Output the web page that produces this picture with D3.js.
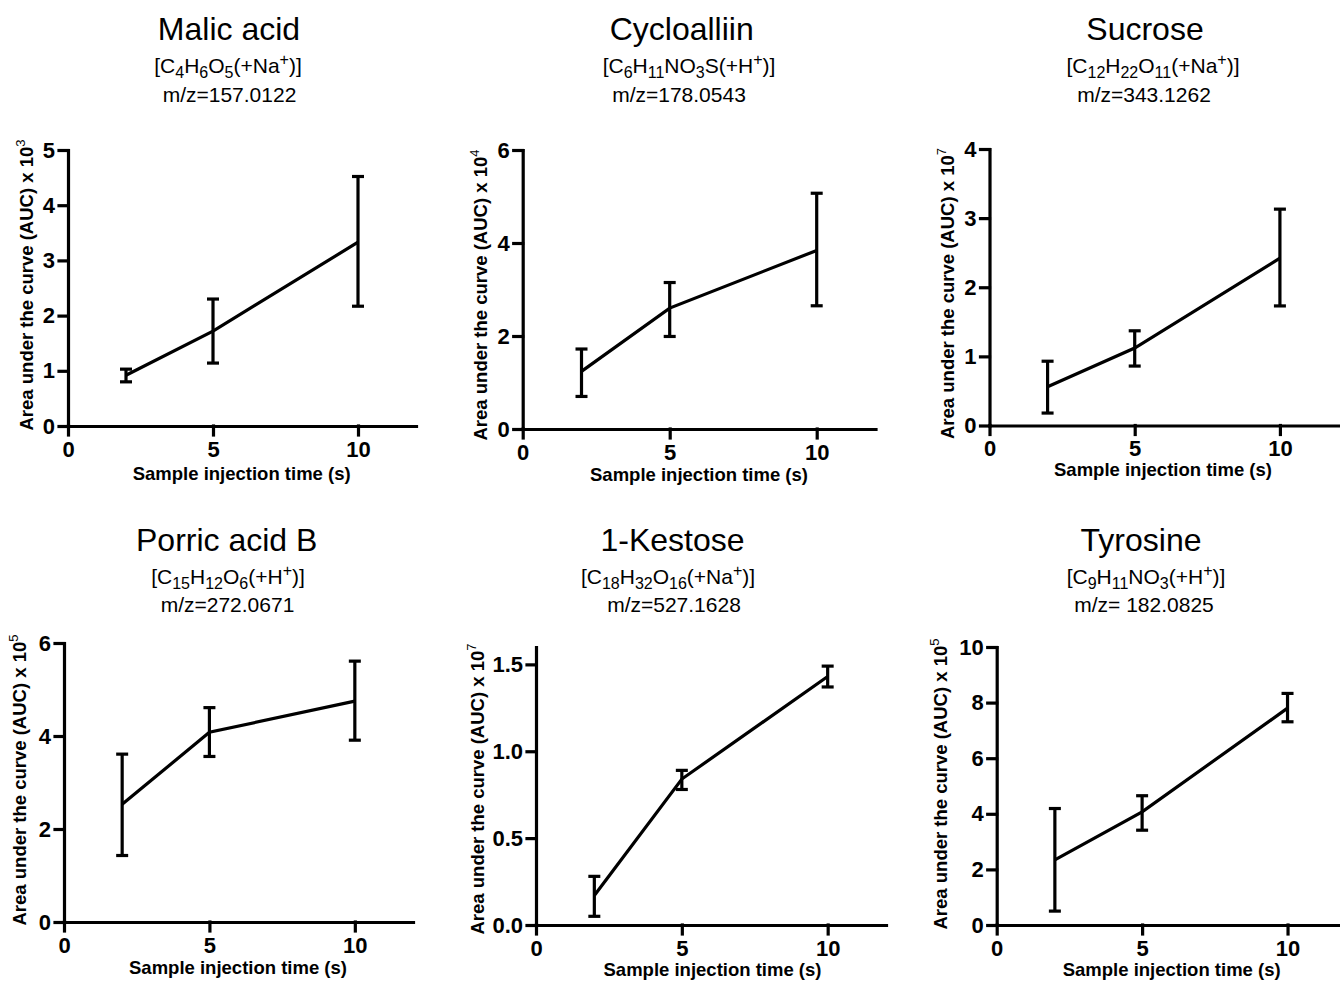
<!DOCTYPE html>
<html>
<head>
<meta charset="utf-8">
<script src="https://cdn.jsdelivr.net/npm/d3@7"></script>
<style>
  body { margin: 0; background: #fff; }
  svg { display: block; font-family: "Liberation Sans", Arial, sans-serif; }
  .title { font-size: 32px; text-anchor: middle; }
  .sub-title { font-size: 21px; text-anchor: middle; }
  .axis-title { font-size: 18.5px; font-weight: bold; text-anchor: middle; }
</style>
</head>
<body>
<script>
// Data
const COMPOUNDS = ["Malic acid", "Cycloalliin", "Sucrose", "Porric acid B", "1-Kestose", "Tyrosine"];
const FORMULAS = [
  "[C_{4}H_{6}O_{5}(+Na^{+})]",
  "[C_{6}H_{11}NO_{3}S(+H^{+})]",
  "[C_{12}H_{22}O_{11}(+Na^{+})]",
  "[C_{15}H_{12}O_{6}(+H^{+})]",
  "[C_{18}H_{32}O_{16}(+Na^{+})]",
  "[C_{9}H_{11}NO_{3}(+H^{+})]"
];
const MZ_LABELS = ["m/z=157.0122", "m/z=178.0543", "m/z=343.1262", "m/z=272.0671", "m/z=527.1628", "m/z= 182.0825"];
const EXPONENTS = ["3", "4", "7", "5", "7", "5"];

const INJECTION_TIMES = [2, 5, 10];
const X_TICKS = [0, 5, 10];
const X_MAX = 12;

const MEANS = [
  [0.92, 1.72, 3.33],
  [1.24, 2.60, 3.84],
  [0.56, 1.12, 2.42],
  [2.53, 4.08, 4.75],
  [0.17, 0.84, 1.43],
  [2.34, 4.07, 7.80]
];
const ERR_LOW = [
  [0.80, 1.14, 2.17],
  [0.70, 1.99, 2.65],
  [0.18, 0.86, 1.73],
  [1.43, 3.56, 3.91],
  [0.05, 0.78, 1.37],
  [0.50, 3.41, 7.31]
];
const ERR_HIGH = [
  [1.03, 2.30, 4.52],
  [1.72, 3.15, 5.07],
  [0.93, 1.37, 3.13],
  [3.61, 4.61, 5.61],
  [0.28, 0.89, 1.49],
  [4.19, 4.65, 8.33]
];
const Y_MAX = [5, 6, 4, 6, 1.6, 10];
const Y_TICKS = [
  [0, 1, 2, 3, 4, 5],
  [0, 2, 4, 6],
  [0, 1, 2, 3, 4],
  [0, 2, 4, 6],
  [0, 0.5, 1.0, 1.5],
  [0, 2, 4, 6, 8, 10]
];

// Panel geometry (pixels)
const LAYOUT = [
  {x0: 68,    xEnd: 416,    yTop: 150, yBot: 426,   tX: 229,   fX: 228,  mX: 229.5, row: 0, ylX: 27,  ylY: 285,   xlX: 241.7,  xlY: 480},
  {x0: 522.7, xEnd: 875.5,  yTop: 150, yBot: 429,   tX: 681.7, fX: 689,  mX: 679,   row: 0, ylX: 481, ylY: 295,   xlX: 699,    xlY: 481},
  {x0: 989.5, xEnd: 1338,   yTop: 149, yBot: 425.5, tX: 1145,  fX: 1153, mX: 1144,  row: 0, ylX: 948, ylY: 293.5, xlX: 1163,   xlY: 476},
  {x0: 64,    xEnd: 413,    yTop: 643, yBot: 922,   tX: 226.7, fX: 228,  mX: 227.5, row: 1, ylX: 20,  ylY: 780,   xlX: 238,    xlY: 974},
  {x0: 536,   xEnd: 886,    yTop: 647, yBot: 925,   tX: 672.5, fX: 668,  mX: 674,   row: 1, ylX: 478, ylY: 789,   xlX: 712.5,  xlY: 976},
  {x0: 996.7, xEnd: 1345.7, yTop: 647, yBot: 925,   tX: 1141,  fX: 1146, mX: 1144,  row: 1, ylX: 941, ylY: 784,   xlX: 1171.7, xlY: 976}
];
const ROW_BASELINES = [[40, 73, 102], [551, 584, 612]];

const SVG = d3.select("body")
  .append("svg")
    .attr("width", 1340)
    .attr("height", 983);

// write a formula with _{sub} and ^{sup} parts as tspans
function drawFormula(textSel, formula) {
  const re = /_\{([^}]*)\}|\^\{([^}]*)\}|([^_^]+)/g;
  let m, shift = 0;
  while ((m = re.exec(formula)) !== null) {
    let target = 0, str, small = false;
    if (m[1] !== undefined) { target = 5; str = m[1]; small = true; }
    else if (m[2] !== undefined) { target = -8; str = m[2]; small = true; }
    else { str = m[3]; }
    textSel.append("tspan")
      .attr("dy", target - shift)
      .attr("font-size", small ? "16px" : null)
      .text(str);
    shift = target;
  }
}

// thick black axis styling
function styleAxis(g) {
  g.attr("font-family", "'Liberation Sans', Arial, sans-serif")
   .attr("font-size", 22)
   .attr("font-weight", "bold");
  g.selectAll(".domain, .tick line")
    .attr("stroke", "#000")
    .attr("stroke-width", 3.2)
    .attr("stroke-linecap", "square");
  g.selectAll(".tick text").attr("fill", "#000");
}

COMPOUNDS.forEach((name, i) => {
  const L = LAYOUT[i];
  const base = ROW_BASELINES[L.row];

  const X_SCALE = d3.scaleLinear().domain([0, X_MAX]).range([L.x0, L.xEnd]);
  const Y_SCALE = d3.scaleLinear().domain([0, Y_MAX[i]]).range([L.yBot, L.yTop]);

  // titles
  SVG.append("text").attr("class", "title")
    .attr("x", L.tX).attr("y", base[0]).text(name);
  drawFormula(SVG.append("text").attr("class", "sub-title")
    .attr("x", L.fX).attr("y", base[1]), FORMULAS[i]);
  SVG.append("text").attr("class", "sub-title")
    .attr("x", L.mX).attr("y", base[2]).text(MZ_LABELS[i]);

  // axes
  const fmt = Y_TICKS[i].some(v => !Number.isInteger(v)) ? d3.format(".1f") : d3.format("d");

  SVG.append("g")
    .attr("transform", "translate(0," + L.yBot + ")")
    .call(d3.axisBottom(X_SCALE).tickValues(X_TICKS).tickSize(9).tickPadding(6).tickSizeOuter(0))
    .call(styleAxis);

  SVG.append("g")
    .attr("transform", "translate(" + L.x0 + ",0)")
    .call(d3.axisLeft(Y_SCALE).tickValues(Y_TICKS[i]).tickFormat(fmt).tickSize(9).tickPadding(4).tickSizeOuter(0))
    .call(styleAxis);

  // axis titles
  SVG.append("text").attr("class", "axis-title")
    .attr("x", L.xlX).attr("y", L.xlY)
    .text("Sample injection time (s)");

  const yl = SVG.append("text").attr("class", "axis-title")
    .attr("transform", "translate(" + L.ylX + "," + L.ylY + ") rotate(-90)")
    .attr("dy", "0.35em");
  yl.append("tspan").text("Area under the curve (AUC) x 10");
  yl.append("tspan").attr("font-size", "13px").attr("font-weight", "normal").attr("dy", -8).text(EXPONENTS[i]);

  // series
  const pts = INJECTION_TIMES.map((t, j) => ({t: t, m: MEANS[i][j], lo: ERR_LOW[i][j], hi: ERR_HIGH[i][j]}));

  SVG.append("path")
    .datum(pts)
    .attr("fill", "none")
    .attr("stroke", "#000")
    .attr("stroke-width", 3.2)
    .attr("d", d3.line().x(d => X_SCALE(d.t)).y(d => Y_SCALE(d.m)));

  const bars = SVG.append("g")
    .attr("stroke", "#000")
    .attr("stroke-width", 3.2)
    .selectAll("g")
    .data(pts)
    .enter()
    .append("g");

  bars.append("line")
    .attr("x1", d => X_SCALE(d.t)).attr("x2", d => X_SCALE(d.t))
    .attr("y1", d => Y_SCALE(d.lo)).attr("y2", d => Y_SCALE(d.hi));
  bars.append("line")
    .attr("x1", d => X_SCALE(d.t) - 6).attr("x2", d => X_SCALE(d.t) + 6)
    .attr("y1", d => Y_SCALE(d.lo)).attr("y2", d => Y_SCALE(d.lo));
  bars.append("line")
    .attr("x1", d => X_SCALE(d.t) - 6).attr("x2", d => X_SCALE(d.t) + 6)
    .attr("y1", d => Y_SCALE(d.hi)).attr("y2", d => Y_SCALE(d.hi));
});
</script>
</body>
</html>
